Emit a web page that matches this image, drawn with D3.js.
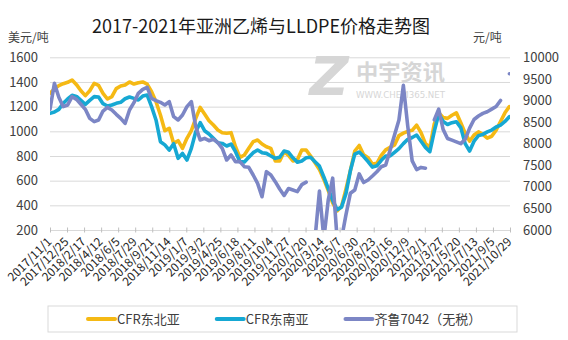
<!DOCTYPE html>
<html><head><meta charset="utf-8">
<script src="https://cdn.jsdelivr.net/npm/d3@7"></script>
<style>
body{margin:0;background:#fff}
svg{display:block}
</style>
</head><body><svg id="c" width="568" height="340"></svg>
<script>
const FONT = '"Noto Sans CJK SC","Noto Sans",sans-serif';
const title = "2017-2021年亚洲乙烯与LLDPE价格走势图";
const leftUnit = "美元/吨";
const rightUnit = "元/吨";
const seriesNames = ["CFR东北亚", "CFR东南亚", "齐鲁7042（无税）"];
const seriesColors = ["#F5B914", "#16A8D3", "#7C86C5"];
const startDate = "2017/11/1";
const stepDays = 14;
const tickLabels = ["2017/11/1","2017/12/25","2018/2/17","2018/4/12","2018/6/5","2018/7/29","2018/9/21","2018/11/14","2019/1/7","2019/3/2","2019/4/25","2019/6/18","2019/8/11","2019/10/4","2019/11/27","2020/1/20","2020/3/14","2020/5/7","2020/6/30","2020/8/23","2020/10/16","2020/12/9","2021/2/1","2021/3/27","2021/5/20","2021/7/13","2021/9/5","2021/10/29"];
const leftTicks = [200,400,600,800,1000,1200,1400,1600];
const rightTicks = [6000,6500,7000,7500,8000,8500,9000,9500,10000];

// CFR东北亚 (USD/t, left axis)
const cfrNE = [1308,1343,1370,1386,1397,1416,1378,1329,1289,1329,1389,1373,1308,1262,1281,1346,1367,1375,1400,1383,1394,1400,1383,1321,1240,1132,1005,
1024,902,924,862,943,1005,1105,1194,1140,1086,1051,1011,989,984,989,875,789,808,862,916,930,897,875,862,760,760,
835,805,760,770,848,848,800,745,690,610,520,420,355,390,530,680,840,885,810,785,735,740,805,850,870,890,
965,985,1000,1008,1050,990,900,870,1060,1150,1112,1105,1130,1150,1070,985,920,970,995,975,945,960,1010,1080,1150,1200];
// CFR东南亚 (USD/t, left axis)
const cfrSE = [1146,1156,1178,1227,1262,1292,1283,1251,1219,1251,1281,1278,1224,1205,1213,1227,1235,1264,1278,1267,1254,1286,1294,1200,1092,916,890,
848,900,781,821,767,862,997,1070,1005,978,943,908,902,881,897,835,754,751,789,827,848,827,821,800,781,790,
840,830,785,750,760,785,790,754,718,630,535,440,365,385,495,680,815,832,795,755,710,720,765,800,800,830,
860,900,935,950,970,920,870,835,1000,1140,1080,1055,1070,1078,1030,900,840,920,965,975,995,1010,1035,1050,1080,1118];
// 齐鲁7042（无税） (CNY/t, right axis)
const qilu = [8800,9397,9073,8857,8895,9088,9026,8911,8795,8586,8509,8548,8756,8841,8779,8679,8586,8471,8779,8949,9165,9258,9304,9050,8996,8957,8895,
8972,8625,8548,8664,8857,8972,8393,8085,8123,8069,8100,8023,7892,7621,7737,7583,7583,7467,7452,7274,7081,6772,7351,7274,7120,6950,
6800,6960,6926,6890,7050,7110,null,5800,6900,5800,6700,7200,5800,5800,6350,6850,6926,7300,7100,7158,7250,7350,7466,7505,7850,8200,
8550,9350,8400,7600,7400,7450,7430,null,8550,8800,8330,8120,8080,8040,8000,8100,8360,8560,8640,8700,8740,8800,8860,9000,null,9620];

const svg = d3.select("#c");
const parse = d3.timeParse("%Y/%m/%d");
const t0 = parse(startDate);
const dates = cfrNE.map((_, i) => d3.timeDay.offset(t0, i * stepDays));
const tickDates = tickLabels.map(parse);

const m = {l: 50, r: 510, t: 57.3, b: 230};
const x = d3.scaleTime().domain([tickDates[0], tickDates[tickDates.length - 1]]).range([m.l, m.r]);
const yL = d3.scaleLinear().domain([200, 1600]).range([m.b, m.t]);
const yR = d3.scaleLinear().domain([6000, 10000]).range([m.b, m.t]);

// title & units
svg.append("text").attr("x", 261).attr("y", 33).attr("text-anchor", "middle")
  .attr("font-family", FONT).attr("font-size", 18).attr("fill", "#1a1a1a").text(title);
svg.append("text").attr("x", 8).attr("y", 42).attr("font-family", FONT).attr("font-size", 12).attr("fill", "#404040").text(leftUnit);
svg.append("text").attr("x", 473).attr("y", 42).attr("font-family", FONT).attr("font-size", 12).attr("fill", "#404040").text(rightUnit);

// gridlines + left axis
const gL = svg.append("g").attr("transform", `translate(${m.l},0)`)
  .call(d3.axisLeft(yL).tickValues(leftTicks).tickSize(-(m.r - m.l)).tickPadding(12).tickFormat(d3.format("d")));
gL.attr("font-family", FONT).attr("font-size", 13);
gL.select(".domain").remove();
gL.selectAll(".tick line").attr("stroke", "#d9d9d9");
gL.selectAll(".tick text").attr("fill", "#404040");

// right axis
const gR = svg.append("g").attr("transform", `translate(${m.r},0)`)
  .call(d3.axisRight(yR).tickValues(rightTicks).tickSize(0).tickPadding(13).tickFormat(d3.format("d")));
gR.attr("font-family", FONT).attr("font-size", 13);
gR.select(".domain").remove();
gR.selectAll(".tick text").attr("fill", "#404040");

// bottom axis
const gB = svg.append("g").attr("transform", `translate(0,${m.b - 2.5})`)
  .call(d3.axisBottom(x).tickValues(tickDates).tickSize(5).tickFormat((d, i) => tickLabels[i]));
gB.attr("font-family", FONT).attr("font-size", 12);
gB.select(".domain").remove();
gB.selectAll(".tick line").attr("stroke", "#bfbfbf");
gB.selectAll(".tick text").attr("fill", "#262626").attr("text-anchor", "end")
  .attr("x", 0).attr("y", 0).attr("dy", "0.35em")
  .attr("transform", "translate(-1,12) rotate(-45)");

// watermark
const wm = svg.append("g").attr("fill", "#d6d6d6").attr("font-family", FONT);
wm.append("text").attr("x", 329).attr("y", 95).attr("text-anchor", "middle")
  .attr("font-size", 54).attr("font-weight", "bold").attr("font-style", "italic").attr("font-family", "DejaVu Sans").text("Z");
wm.append("text").attr("x", 356).attr("y", 80).attr("font-size", 22).attr("font-weight", "bold")
  .attr("textLength", 89).attr("lengthAdjust", "spacingAndGlyphs").text("中宇资讯");
wm.append("text").attr("x", 356).attr("y", 98).attr("font-size", 9)
  .attr("textLength", 89).attr("lengthAdjust", "spacingAndGlyphs").attr("font-family", "DejaVu Sans").text("WWW.CHEM365.NET");

// clip
svg.append("clipPath").attr("id", "pc").append("rect")
  .attr("x", m.l).attr("y", m.t - 10).attr("width", m.r - m.l).attr("height", m.b - m.t + 10);

const lines = svg.append("g").attr("clip-path", "url(#pc)");
const seriesData = [
  {vals: cfrNE, y: yL},
  {vals: cfrSE, y: yL},
  {vals: qilu, y: yR}
];
seriesData.forEach((s, k) => {
  const line = d3.line()
    .defined(d => d.v != null)
    .x(d => x(d.t)).y(d => s.y(d.v));
  lines.append("path")
    .datum(s.vals.map((v, i) => ({t: dates[i], v})))
    .attr("fill", "none").attr("stroke", seriesColors[k])
    .attr("stroke-width", 3.6).attr("stroke-linejoin", "round").attr("stroke-linecap", "round")
    .attr("d", line);
});

// legend
const lg = svg.append("g").attr("font-family", FONT).attr("font-size", 13);
lg.append("rect").attr("x", 48).attr("y", 306).attr("width", 469).attr("height", 26)
  .attr("fill", "none").attr("stroke", "#d9d9d9");
let lx = 88;
seriesNames.forEach((n, k) => {
  lg.append("line").attr("x1", lx).attr("x2", lx + 27).attr("y1", 319).attr("y2", 319)
    .attr("stroke", seriesColors[k]).attr("stroke-width", 4).attr("stroke-linecap", "round");
  const t = lg.append("text").attr("x", lx + 29).attr("y", 319).attr("dy", "0.35em").attr("fill", "#404040").text(n);
  lx += 29 + t.node().getComputedTextLength() + 37;
});
</script></body></html>
